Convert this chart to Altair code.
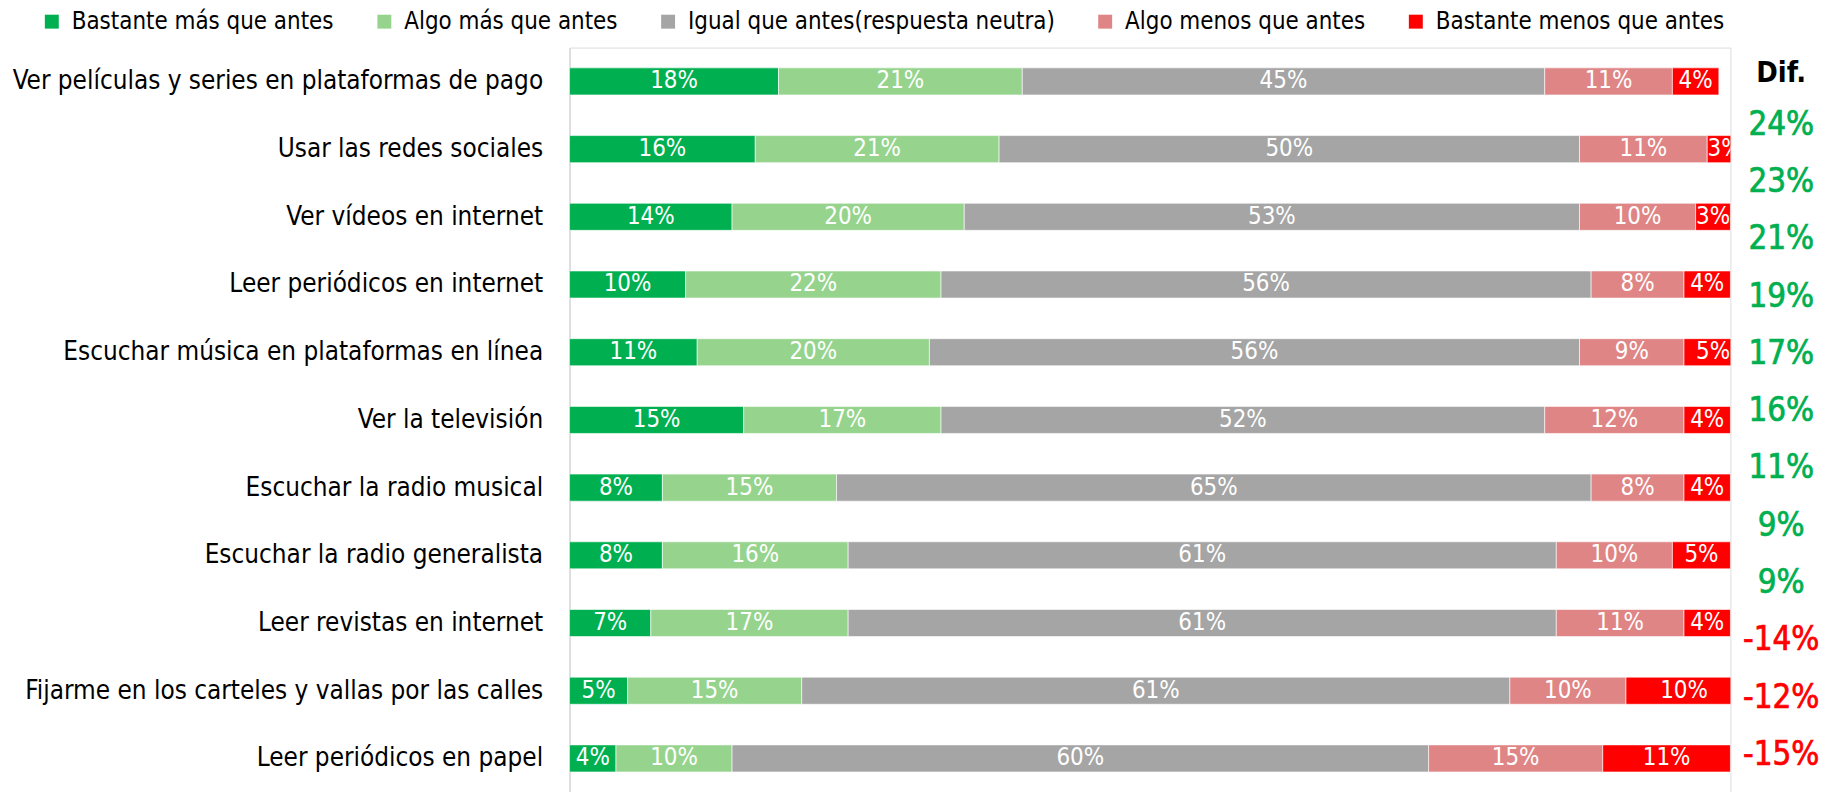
import altair as alt
import pandas as pd

FONT = "DejaVu Sans Condensed, Liberation Sans Narrow, sans-serif"

categorias = [
    "Ver películas y series en plataformas de pago",
    "Usar las redes sociales",
    "Ver vídeos en internet",
    "Leer periódicos en internet",
    "Escuchar música en plataformas en línea",
    "Ver la televisión",
    "Escuchar la radio musical",
    "Escuchar la radio generalista",
    "Leer revistas en internet",
    "Fijarme en los carteles y vallas por las calles",
    "Leer periódicos en papel",
]
series = [
    "Bastante más que antes",
    "Algo más que antes",
    "Igual que antes(respuesta neutra)",
    "Algo menos que antes",
    "Bastante menos que antes",
]
bastante_mas = [18, 16, 14, 10, 11, 15, 8, 8, 7, 5, 4]
algo_mas = [21, 21, 20, 22, 20, 17, 15, 16, 17, 15, 10]
igual = [45, 50, 53, 56, 56, 52, 65, 61, 61, 61, 60]
algo_menos = [11, 11, 10, 8, 9, 12, 8, 10, 11, 10, 15]
bastante_menos = [4, 3, 3, 4, 5, 4, 4, 5, 4, 10, 11]
dif_valores = [24, 23, 21, 19, 17, 16, 11, 9, 9, -14, -12, -15]

colores = ["#00B050", "#96D48E", "#A5A5A5", "#DF8585", "#FF0000"]

valores = [bastante_mas, algo_mas, igual, algo_menos, bastante_menos]
rows = []
for si, (s, vals) in enumerate(zip(series, valores)):
    for c, v in zip(categorias, vals):
        rows.append({"cat": c, "serie": s, "orden": si, "valor": v})
df = pd.DataFrame(rows)

dif_df = pd.DataFrame({"idx": [str(i) for i in range(len(dif_valores))], "dif": dif_valores})

base = alt.Chart(df).transform_stack(
    stack="valor", as_=["x0", "x1"], groupby=["cat"], sort=[alt.SortField("orden")]
).transform_calculate(
    mid="(datum.x0 + datum.x1) / 2", label="datum.valor + '%'"
)

yenc = alt.Y(
    "cat:N",
    sort=categorias,
    scale=alt.Scale(paddingInner=0.6, paddingOuter=0.3),
    axis=alt.Axis(
        title=None, ticks=False, labelPadding=27, labelFontSize=26, labelFont=FONT,
        labelColor="#000000", domainColor="#D9D9D9", domainWidth=1.5, labelLimit=700,
    ),
)
xscale = alt.Scale(domain=[0, 100], nice=False, zero=False)

bars = base.mark_bar(clip=True, stroke="#FFFFFF", strokeWidth=0.6).encode(
    y=yenc,
    x=alt.X("x0:Q", scale=xscale, axis=None),
    x2="x1:Q",
    color=alt.Color(
        "serie:N",
        scale=alt.Scale(domain=series, range=colores),
        legend=alt.Legend(
            title=None, orient="none", legendX=-532, legendY=-38, direction="horizontal",
            columns=5, symbolType="square", symbolSize=196, symbolStrokeWidth=0,
            labelFontSize=24, labelFont=FONT, labelColor="#000000", columnPadding=38,
            labelOffset=8, labelLimit=600, padding=0,
        ),
    ),
)

labels = base.mark_text(clip=True, color="white", fontSize=24, font=FONT).encode(
    y=alt.Y("cat:N", sort=categorias),
    x=alt.X("mid:Q", scale=xscale),
    text="label:N",
)

main = alt.layer(bars, labels)

dif_color = alt.condition(alt.datum.dif >= 0, alt.value("#00B050"), alt.value("#FF0000"))
dif_text = alt.Chart(dif_df).transform_calculate(
    t="datum.dif + '%'"
).mark_text(fontSize=33, font=FONT, strokeWidth=0.7).encode(
    y=alt.Y("idx:N", sort=None, axis=None,
            scale=alt.Scale(type="point", padding=1.06, align=0.674)),
    x=alt.value(1217),
    text="t:N",
    color=dif_color,
    stroke=dif_color,
)

dif_header = alt.Chart(pd.DataFrame({"h": ["Dif."]})).mark_text(
    fontSize=29, font=FONT, fontWeight="bold", color="#000000"
).encode(x=alt.value(1217), y=alt.value(26), text="h:N")

chart = alt.layer(main, dif_text, dif_header).resolve_scale(
    y="independent"
).properties(
    width=1166, height=748,
    autosize=alt.AutoSizeParams(type="none"),
    padding={"left": 564, "top": 38, "right": 100, "bottom": 0},
).configure_view(stroke=None).configure(font=FONT)

chart.save("out.html", embed_options={"renderer": "svg", "actions": False})
